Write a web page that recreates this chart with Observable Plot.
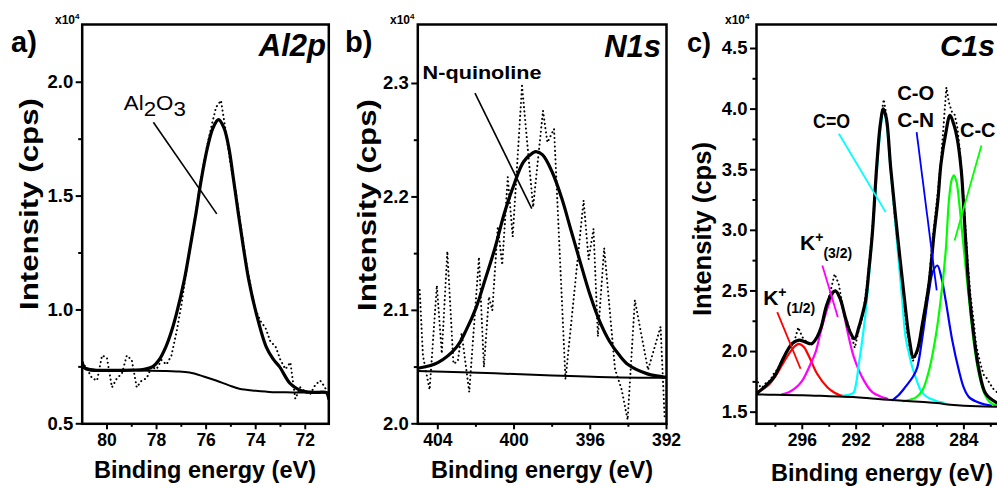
<!DOCTYPE html>
<html><head><meta charset="utf-8">
<script src="https://cdn.jsdelivr.net/npm/d3@7"></script>
<script src="https://cdn.jsdelivr.net/npm/@observablehq/plot@0.6"></script>
<style>
html,body{margin:0;padding:0;background:#fff;overflow:hidden;width:997px;height:487px;}
#wrap{position:relative;width:997px;height:487px;overflow:hidden;font-family:"Liberation Sans",Arial,sans-serif;}
</style></head><body><div id="wrap"></div>
<script>
// ---------------- Panel a: Al2p ----------------
const alXTicks = [80, 78, 76, 74, 72];
const alXMinor = [79, 77, 75, 73];
const alYTicks = [0.5, 1.0, 1.5, 2.0];
const alYMinor = [0.75, 1.25, 1.75];
const alRaw = [[81.0,0.77],[80.8,0.74],[80.6,0.70],[80.4,0.69],[80.2,0.80],[80.0,0.79],[79.8,0.66],[79.6,0.70],[79.4,0.72],[79.2,0.80],[79.0,0.78],[78.8,0.66],[78.6,0.69],[78.4,0.70],[78.2,0.75],[78.0,0.74],[77.8,0.78],[77.6,0.76],[77.4,0.80],[77.2,0.90],[77.0,1.02],[76.8,1.17],[76.6,1.30],[76.4,1.44],[76.2,1.58],[76.0,1.70],[75.8,1.80],[75.6,1.89],[75.4,1.92],[75.2,1.78],[75.0,1.63],[74.8,1.52],[74.6,1.37],[74.4,1.22],[74.2,1.10],[74.0,1.00],[73.8,0.95],[73.6,0.92],[73.4,0.86],[73.2,0.84],[73.0,0.78],[72.8,0.74],[72.6,0.77],[72.4,0.61],[72.2,0.66],[72.0,0.64],[71.8,0.63],[71.6,0.67],[71.4,0.69],[71.2,0.66],[71.0,0.59]];
const alEnvelope = [[81.0,0.77],[80.9,0.745],[80.7,0.737],[80.0,0.735],[79.0,0.736],[78.5,0.739],[78.15,0.751],[77.9,0.78],[77.62,0.839],[77.4,0.905],[77.19,0.986],[76.88,1.132],[76.64,1.278],[76.41,1.424],[76.2,1.57],[75.94,1.716],[75.72,1.80],[75.5,1.836],[75.28,1.80],[75.09,1.716],[74.89,1.57],[74.7,1.424],[74.5,1.278],[74.28,1.132],[73.98,0.986],[73.58,0.839],[73.3,0.785],[73.04,0.751],[72.62,0.678],[72.3,0.652],[72.0,0.641],[71.5,0.638],[71.15,0.637],[71.05,0.61]];
const alBackground = [[81.0,0.748],[80.5,0.737],[79.5,0.736],[78.7,0.734],[77.7,0.732],[77.2,0.73],[76.67,0.725],[76.1,0.708],[75.6,0.69],[75.1,0.67],[74.66,0.654],[74.0,0.645],[73.31,0.639],[72.5,0.638],[71.05,0.637]];
const alLeaders = [[78.13,1.8245,75.57,1.422]];
const alLabels = [["Al2O3",79.30,1.876]];

// ---------------- Panel b: N1s ----------------
const nXTicks = [404, 400, 396, 392];
const nXMinor = [402, 398, 394];
const nYTicks = [2.0, 2.1, 2.2, 2.3];
const nYMinor = [2.05, 2.15, 2.25];
const nRaw = [[404.95,2.118],[404.78,2.06],[404.43,2.030],[404.05,2.122],[403.79,2.062],[403.50,2.152],[403.18,2.053],[402.95,2.055],[402.75,2.080],[402.35,2.028],[401.84,2.147],[401.58,2.050],[401.32,2.112],[401.14,2.100],[400.85,2.174],[400.62,2.140],[400.33,2.2175],[400.07,2.165],[399.58,2.298],[399.0,2.191],[398.48,2.276],[398.25,2.248],[397.90,2.260],[397.30,2.039],[396.35,2.197],[396.09,2.145],[395.83,2.172],[395.60,2.077],[395.27,2.155],[394.70,2.048],[394.35,2.030],[394.04,2.0035],[393.66,2.109],[392.97,2.0475],[392.31,2.0856],[392.1,2.006]];
const nEnvelope = [[405.05,2.049],[404,2.054],[403,2.068],[402.5,2.083],[402,2.102],[401.5,2.128],[401,2.155],[400.5,2.186],[400,2.211],[399.5,2.231],[399,2.239],[398.85,2.240],[398.5,2.237],[398,2.222],[397.5,2.199],[397,2.170],[396.5,2.141],[396,2.113],[395.5,2.090],[395,2.073],[394.5,2.061],[394,2.052],[393,2.044],[392,2.041]];
const nBackground = [[405.05,2.0465],[401,2.0445],[398,2.0425],[395,2.041],[392,2.0405]];
const nLeaders = [[402.05,2.2915,399.07,2.1896]];
const nLabels = [["N-quinoline",404.77,2.3036]];

// ---------------- Panel c: C1s ----------------
const cXTicks = [296, 292, 288, 284];
const cXMinor = [298, 294, 290, 286, 282];
const cYTicks = [1.5, 2.0, 2.5, 3.0, 3.5, 4.0, 4.5];
const cYMinor = [1.75, 2.25, 2.75, 3.25, 3.75, 4.25];
const cRaw = [[299.4,1.78],[299.2,1.72],[299.0,1.70],[298.7,1.74],[298.4,1.76],[298.1,1.82],[297.8,1.86],[297.5,1.93],[297.2,1.99],[296.9,2.04],[296.6,2.08],[296.3,2.20],[296.0,2.12],[295.7,2.08],[295.4,2.05],[295.1,2.08],[294.8,2.14],[294.5,2.25],[294.2,2.38],[293.9,2.50],[293.6,2.64],[293.3,2.56],[293.0,2.38],[292.7,2.26],[292.4,2.15],[292.1,2.03],[291.8,2.18],[291.5,2.30],[291.2,2.55],[290.9,2.88],[290.6,3.30],[290.3,3.78],[290.1,3.98],[289.95,4.08],[289.75,3.95],[289.5,3.62],[289.2,3.18],[288.9,2.85],[288.6,2.52],[288.3,2.22],[288.0,2.02],[287.8,1.92],[287.5,1.98],[287.2,2.15],[286.9,2.36],[286.6,2.58],[286.3,2.95],[286.0,3.25],[285.7,3.58],[285.5,3.88],[285.3,4.18],[285.1,4.05],[284.9,3.98],[284.7,3.96],[284.5,3.86],[284.3,3.66],[284.1,3.38],[283.9,3.05],[283.7,2.72],[283.5,2.45],[283.3,2.28],[283.1,2.06],[282.9,1.96],[282.7,1.87],[282.5,1.80],[282.3,1.78],[282.1,1.74],[281.8,1.69],[281.5,1.66],[281.2,1.63]];
const cEnvelope = [[299.4,1.652],[299.1,1.68],[298.6,1.73],[298.1,1.79],[297.6,1.90],[297.1,2.01],[296.7,2.07],[296.25,2.095],[295.8,2.08],[295.3,2.065],[294.9,2.12],[294.6,2.20],[294.2,2.38],[293.8,2.48],[293.53,2.50],[293.2,2.44],[292.8,2.28],[292.45,2.16],[292.11,2.106],[291.8,2.20],[291.55,2.30],[291.3,2.42],[291.05,2.68],[290.8,2.97],[290.48,3.52],[290.2,3.88],[289.98,4.003],[289.75,3.92],[289.44,3.52],[288.94,2.97],[288.4,2.42],[288.05,2.10],[287.75,1.954],[287.46,2.01],[287.08,2.23],[286.59,2.56],[286.22,2.97],[285.93,3.25],[285.7,3.55],[285.35,3.80],[285.03,3.948],[284.74,3.87],[284.5,3.76],[284.2,3.50],[283.9,2.97],[283.6,2.48],[283.25,2.12],[282.9,1.86],[282.38,1.652],[281.64,1.583],[281.0,1.56]];
const cBackground = [[299.4,1.646],[298,1.643],[296,1.640],[294,1.632],[292,1.624],[290,1.605],[288,1.59],[287,1.583],[286,1.575],[285,1.562],[284,1.553],[283,1.548],[281,1.545]];
const cK12 = [[299.4,1.665],[299.0,1.685],[298.5,1.725],[298.0,1.795],[297.5,1.89],[297.0,1.98],[296.6,2.04],[296.25,2.064],[295.9,2.04],[295.5,1.96],[294.9,1.817],[294.14,1.706],[293.6,1.66],[293.2,1.64],[292.5,1.628]];
const cK32 = [[297.5,1.648],[297.0,1.665],[296.5,1.70],[296.0,1.76],[295.38,1.90],[295.0,2.00],[294.64,2.16],[294.02,2.394],[293.53,2.504],[293.1,2.40],[292.66,2.175],[292.17,1.954],[291.42,1.76],[290.8,1.665],[290.2,1.63],[289.7,1.612]];
const cCO = [[293.0,1.635],[292.6,1.643],[292.2,1.66],[292.0,1.74],[291.8,1.90],[291.6,2.05],[291.3,2.32],[291.0,2.68],[290.7,3.10],[290.4,3.58],[290.15,3.88],[289.98,3.99],[289.8,3.92],[289.5,3.58],[289.2,3.20],[288.9,2.82],[288.6,2.45],[288.33,2.12],[288.05,1.97],[287.83,1.87],[287.5,1.76],[287.21,1.68],[286.8,1.63],[286.47,1.61],[286.0,1.59],[285.5,1.578]];
const cCN = [[289.3,1.60],[288.9,1.635],[288.4,1.70],[287.74,1.80],[287.46,1.87],[287.08,2.12],[286.59,2.50],[286.3,2.66],[285.97,2.71],[285.65,2.60],[285.35,2.42],[284.86,2.09],[284.37,1.844],[284.0,1.70],[283.62,1.624],[283.0,1.583],[282.5,1.565],[282.0,1.555]];
const cCC = [[288.5,1.59],[287.95,1.605],[287.58,1.62],[287.08,1.68],[286.59,1.844],[286.1,2.12],[285.73,2.42],[285.35,2.83],[285.11,3.247],[284.9,3.42],[284.74,3.453],[284.55,3.40],[284.37,3.25],[284.1,2.95],[283.8,2.62],[283.5,2.30],[283.2,2.02],[282.9,1.82],[282.5,1.66],[282.1,1.585],[281.6,1.555],[281.0,1.548]];
// leader lines: K1/2, K3/2, C=O, C-N, C-C
const cLeaders = [[297.86,2.325,296.13,1.858],[294.51,2.71,293.36,2.284],[293.28,3.797,289.81,3.15],[287.51,3.81,286.02,2.504],[282.7,3.70,284.69,2.917]];
const cLabels = [["C=O",295.16,3.841],["C-O",288.92,4.072],["C-N",288.92,3.846],["C-C",284.25,3.763]];
const cKLabels = [["(1/2)",298.87,2.380],["(3/2)",296.13,2.834]];

const componentColors = ["#ff0000", "#ff00ff", "#00ffff", "#0000ff", "#00ff00"];

// ---------------- rendering ----------------
const wrap = document.getElementById("wrap");
const FONT = "'Liberation Sans', Arial, Helvetica, sans-serif";

function makePanel(cfg) {
  const plot = Plot.plot({
    width: cfg.width, height: 487,
    marginLeft: cfg.mL, marginRight: cfg.mR, marginTop: 24, marginBottom: 63.7,
    x: {domain: cfg.xDomain},
    y: {domain: cfg.yDomain},
    style: {background: "transparent", overflow: "visible", maxWidth: "none", fontFamily: FONT, fontSize: "17.5px", fontWeight: "bold", color: "black"},
    marks: [
      ...cfg.marks,
      Plot.axisX({ticks: cfg.xTicks, tickSize: 6, strokeWidth: 2, tickPadding: 4, label: null, tickFormat: d => String(d)}),
      Plot.axisX({ticks: cfg.xMinor, tickSize: 3.5, strokeWidth: 2, label: null, tickFormat: () => ""}),
      Plot.axisY({ticks: cfg.yTicks, tickSize: 6, strokeWidth: 2, tickPadding: 3, label: null, tickFormat: d3.format(".1f"), fontSize: 18.5}),
      Plot.axisY({ticks: cfg.yMinor, tickSize: 3.5, strokeWidth: 2, label: null, tickFormat: () => ""}),
      Plot.frame({stroke: "black", strokeWidth: 2.5})
    ]
  });
  plot.style.position = "absolute";
  plot.style.left = cfg.left + "px";
  plot.style.top = "0px";
  wrap.appendChild(plot);
  return {plot, left: cfg.left, sx: plot.scale("x"), sy: plot.scale("y")};
}

const rawLine = data => Plot.line(data, {x: d => d[0], y: d => d[1], stroke: "black", strokeWidth: 2, strokeDasharray: "0.1 4.2", strokeLinecap: "round", clip: true});
const fitLine = (data, stroke, w) => Plot.line(data, {x: d => d[0], y: d => d[1], curve: "catmull-rom", stroke, strokeWidth: w, clip: true});
const leaderLink = (data, stroke) => Plot.link(data, {x1: d => d[0], y1: d => d[1], x2: d => d[2], y2: d => d[3], stroke, strokeWidth: 1.6});

const pa = makePanel({
  left: 0, width: 340, mL: 81.7, mR: 11.7, xDomain: [81.0, 71.05], yDomain: [0.5, 2.2536],
  xTicks: alXTicks, xMinor: alXMinor, yTicks: alYTicks, yMinor: alYMinor,
  marks: [rawLine(alRaw), fitLine(alBackground, "black", 2), fitLine(alEnvelope, "black", 3.2), leaderLink(alLeaders, "black")]
});
const pb = makePanel({
  left: 340, width: 340, mL: 77.3, mR: 14, xDomain: [405.05, 392], yDomain: [2.0, 2.352],
  xTicks: nXTicks, xMinor: nXMinor, yTicks: nYTicks, yMinor: nYMinor,
  marks: [rawLine(nRaw), fitLine(nBackground, "black", 2), fitLine(nEnvelope, "black", 3.2), leaderLink(nLeaders, "black")]
});
const pc = makePanel({
  left: 680, width: 330, mL: 76, mR: 6.2, xDomain: [299.4, 281.0], yDomain: [1.404, 4.698],
  xTicks: cXTicks, xMinor: cXMinor, yTicks: cYTicks, yMinor: cYMinor,
  marks: [
    rawLine(cRaw),
    fitLine(cK12, componentColors[0], 2.2),
    fitLine(cK32, componentColors[1], 2.2),
    fitLine(cCO, componentColors[2], 2.2),
    fitLine(cCN, componentColors[3], 2.2),
    fitLine(cCC, componentColors[4], 2.2),
    fitLine(cBackground, "black", 2),
    fitLine(cEnvelope, "black", 3.2),
    Plot.link(cLeaders, {x1: d => d[0], y1: d => d[1], x2: d => d[2], y2: d => d[3], stroke: (d, i) => componentColors[i], strokeWidth: 1.8})
  ]
});
d3.select(pc.plot).selectAll('g[aria-label="link"] path, g[aria-label="link"] line').each(function(d, i) {
  d3.select(this).attr("stroke", componentColors[i]);
});

// overlay for text
const ov = d3.select(wrap).append("svg")
  .attr("width", 997).attr("height", 487)
  .style("position", "absolute").style("left", "0px").style("top", "0px")
  .style("overflow", "visible").style("pointer-events", "none")
  .attr("font-family", FONT).attr("fill", "black");

function addText(x, y, parts, o) {
  const t = ov.append("text").attr("x", x).attr("y", y)
    .attr("font-size", o.size).attr("font-weight", o.weight || "bold")
    .attr("font-style", o.italic ? "italic" : "normal")
    .attr("text-anchor", o.anchor || "start");
  if (o.w) t.attr("textLength", o.w).attr("lengthAdjust", "spacingAndGlyphs");
  if (o.rotate) t.attr("transform", `rotate(${o.rotate},${x},${y})`);
  if (o.baseline) t.attr("dominant-baseline", o.baseline);
  parts.forEach(p => {
    const s = t.append("tspan").text(p.t);
    if (p.size) s.attr("font-size", p.size);
    if (p.dy !== undefined) s.attr("y", y + p.dy);
  });
  return t;
}
const X = (p, v) => p.left + p.sx.apply(v);
const Y = (p, v) => p.sy.apply(v);

// axis multipliers
[[55, 24], [390, 24], [725, 24]].forEach(([x, y]) =>
  addText(x, y, [{t: "x10", dy: 0}, {t: "4", size: 8, dy: -5}], {size: 12}));
// panel letters
addText(11, 52, [{t: "a)"}], {size: 29});
addText(345, 52, [{t: "b)"}], {size: 29});
addText(687, 52, [{t: "c)"}], {size: 27});
// panel titles
addText(326, 56, [{t: "Al2p"}], {size: 31, italic: true, anchor: "end"});
addText(661, 57, [{t: "N1s"}], {size: 31, italic: true, anchor: "end"});
addText(995, 56, [{t: "C1s"}], {size: 30, italic: true, anchor: "end"});
// axis titles
[[28.5, 204, 212], [366.7, 205, 212], [701.7, 229, 174]].forEach(([x, y, w]) =>
  addText(x, y, [{t: "Intensity (cps)"}], {size: 26, anchor: "middle", rotate: -90, w, baseline: "central"}));
[[205, 478], [542, 478], [882, 481]].forEach(([x, y]) =>
  addText(x, y, [{t: "Binding energy (eV)"}], {size: 23.5, anchor: "middle"}));

// annotations in data coordinates
{
  const [, e, v] = alLabels[0];
  addText(X(pa, e), Y(pa, v), [{t: "Al", dy: 0}, {t: "2", dy: 6}, {t: "O", dy: 0}, {t: "3", dy: 6}], {size: 21, weight: "normal", w: 62});
}
{
  const [txt, e, v] = nLabels[0];
  addText(X(pb, e), Y(pb, v), [{t: txt}], {size: 19, w: 119});
}
cLabels.forEach(([txt, e, v], i) => {
  if (i === 3) addText(X(pc, e), Y(pc, v), [{t: txt}], {size: 20});
  else addText(X(pc, e), Y(pc, v), [{t: txt}], {size: 21, w: 37});
});
cKLabels.forEach(([sub, e, v]) => {
  addText(X(pc, e), Y(pc, v), [{t: "K", dy: 0}, {t: "+", size: 14, dy: -8}, {t: sub, size: 14, dy: 8}], {size: 21});
});
</script></body></html>
